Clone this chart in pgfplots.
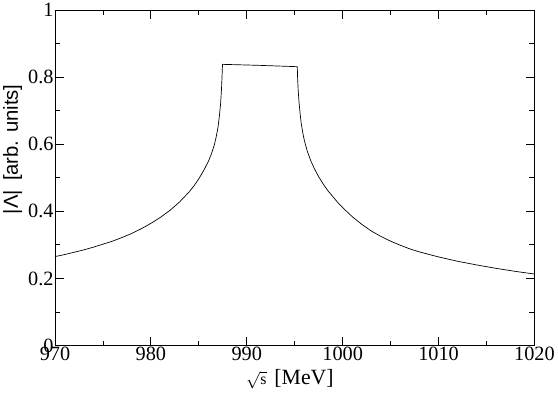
\documentclass[border=0pt]{standalone}
\usepackage{pgfplots}
\pgfplotsset{compat=1.18}
\usepackage{fontspec}
\setmainfont{Liberation Serif}
\newfontfamily\helv{Liberation Sans}
\begin{document}
\begin{tikzpicture}
\begin{axis}[
    scale only axis,
    width=483bp, height=338bp,
    xmin=970, xmax=1020, ymin=0, ymax=1,
    xtick={970,980,...,1020},
    ytick={0,0.2,...,1.0},
    minor x tick num=1,
    minor y tick num=1,
    tick align=inside,
    major tick length=9bp,
    minor tick length=5bp,
    axis line style={line width=0.9pt},
    every tick/.style={black, line width=0.8pt},
    /pgf/number format/assume math mode=true,
    /pgf/number format/fixed,
    /pgf/number format/1000 sep={},
    ticklabel style={font=\fontsize{20.5}{22}\selectfont},
    xticklabel style={yshift=2bp},
    yticklabel style={xshift=2bp},
    xlabel={{\fontsize{16}{18}\selectfont$\sqrt{\mbox{s}}$}\ \fontsize{22}{24}\selectfont\ [MeV]},
    ylabel={\helv\fontsize{20.5}{22}\selectfont |Λ|\, [arb. units]},
    every axis x label/.style={at={(axis description cs:0.49,-0.1)}, anchor=center},
    every axis y label/.style={at={(axis description cs:-0.088,0.585)}, rotate=90, anchor=center},
]
\addplot[black, line width=0.7pt] coordinates {
    (970.0,0.265) (971.0,0.271) (972.0,0.278) (973.0,0.285) (974.0,0.293)
    (975.0,0.302) (976.0,0.311) (977.0,0.322) (978.0,0.334) (979.0,0.348)
    (980.0,0.364) (981.0,0.382) (982.0,0.403) (983.0,0.428) (984.0,0.458)
    (984.5,0.476) (985.0,0.497) (985.5,0.521) (986.0,0.549) (986.3,0.570)
    (986.6,0.596) (986.8,0.620) (987.0,0.650) (987.15,0.685) (987.27,0.720)
    (987.36,0.762) (987.42,0.800) (987.47,0.838)
    (991.3,0.835)
    (995.27,0.831) (995.30,0.800) (995.36,0.762) (995.45,0.725) (995.55,0.695)
    (995.67,0.664) (995.85,0.633) (996.0,0.612) (996.3,0.580) (996.7,0.549)
    (997.0,0.530) (997.5,0.503) (998.0,0.480) (998.5,0.460) (999.0,0.443)
    (999.5,0.426) (1000.0,0.411) (1001.0,0.384) (1002.0,0.361) (1003.0,0.341)
    (1004.0,0.325) (1005.0,0.311) (1006.0,0.299) (1007.0,0.288) (1008.0,0.279)
    (1010.0,0.264) (1012.0,0.251) (1014.0,0.240) (1016.0,0.230) (1018.0,0.221)
    (1020.0,0.213)
};
\end{axis}
\end{tikzpicture}
\end{document}
